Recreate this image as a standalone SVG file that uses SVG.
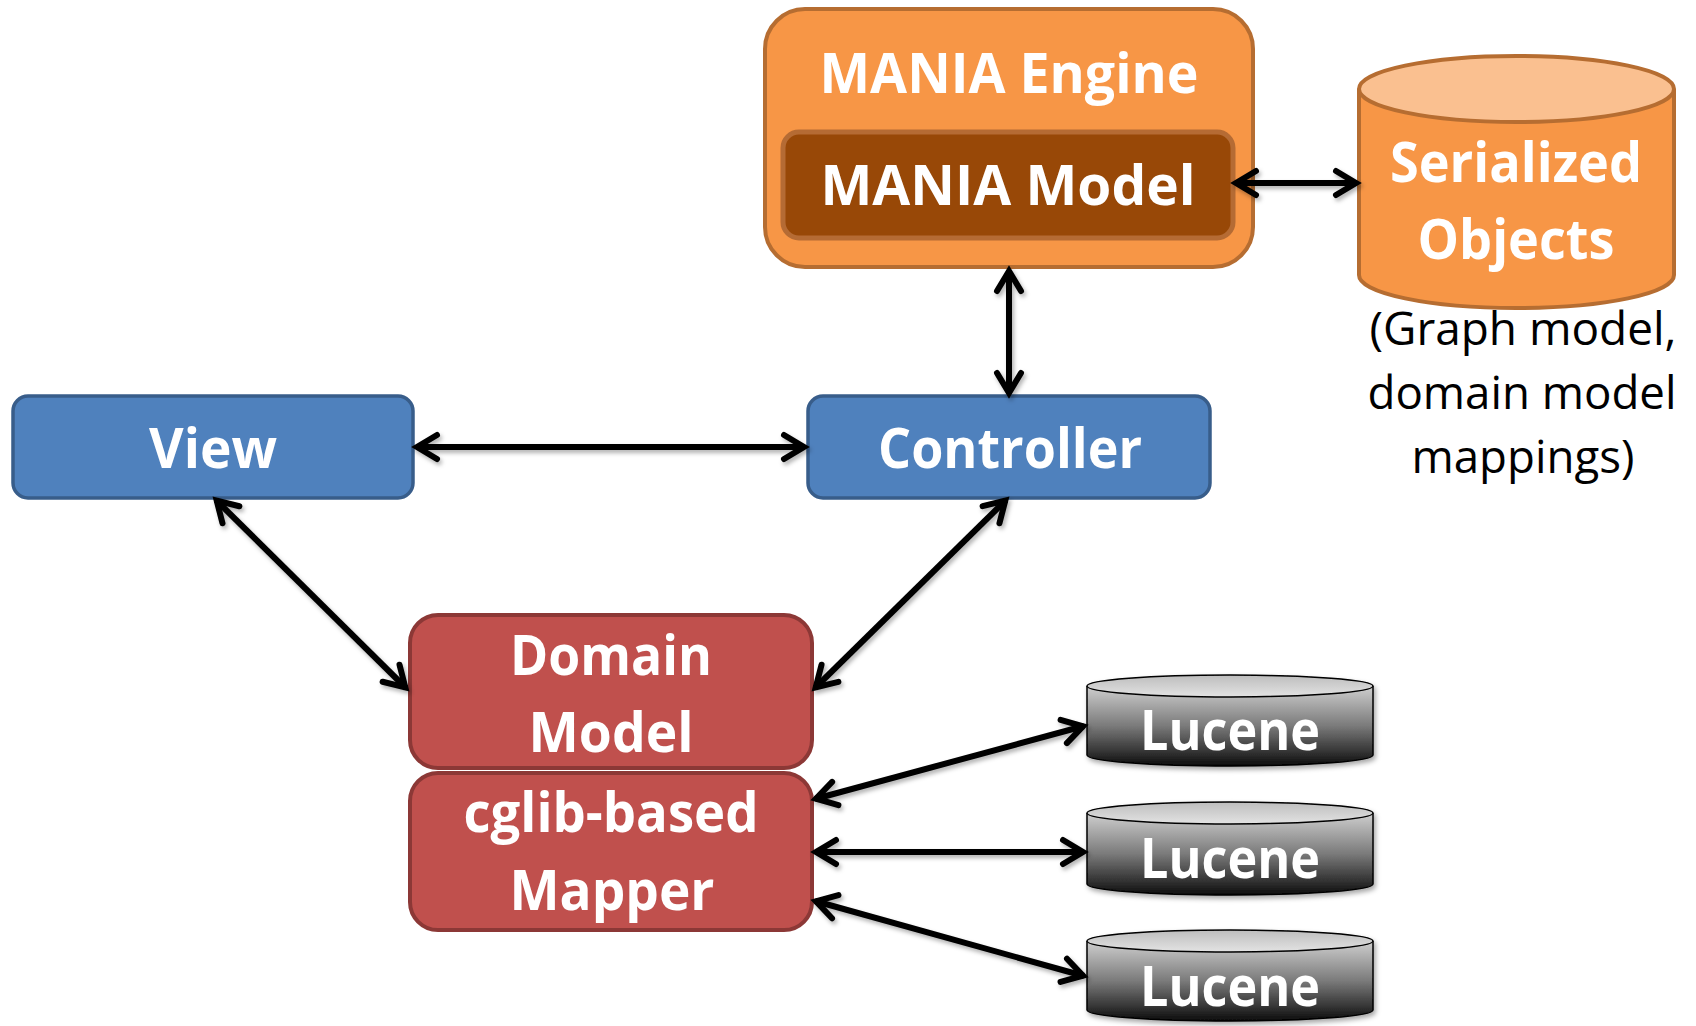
<svg xmlns="http://www.w3.org/2000/svg" width="1696" height="1026" viewBox="0 0 1696 1026">
  <style>
    .lbl { font-family: "Open Sans", "Liberation Sans", sans-serif; font-weight: 700; font-size: 56px; fill: #ffffff; text-anchor: middle; }
    .cap { font-family: "Open Sans", "Liberation Sans", sans-serif; font-weight: 400; font-size: 46px; fill: #000000; text-anchor: middle; }
    .blue { fill: #4f81bd; stroke: #385d8a; stroke-width: 3.5; }
    .red { fill: #c0504d; stroke: #8c3836; stroke-width: 4; }
  </style>
  <defs>
    <marker id="arr" markerUnits="userSpaceOnUse" markerWidth="40" markerHeight="40" viewBox="-32 -20 40 40" refX="0" refY="0" orient="auto-start-reverse">
      <path d="M -21 -12 L -1 0 L -21 12" fill="none" stroke="#000" stroke-width="6" stroke-linecap="round" stroke-linejoin="miter"/>
    </marker>
    <filter id="sh" x="-20%" y="-20%" width="140%" height="140%">
      <feDropShadow dx="2" dy="3" stdDeviation="2.5" flood-color="#000" flood-opacity="0.35"/>
    </filter>
    <filter id="shc" filterUnits="userSpaceOnUse" x="0" y="0" width="1696" height="1026">
      <feDropShadow dx="2" dy="3" stdDeviation="2" flood-color="#000" flood-opacity="0.3"/>
    </filter>
    <linearGradient id="lucBody" x1="0" y1="0" x2="0" y2="1">
      <stop offset="0" stop-color="#cfcfcf"/>
      <stop offset="0.5" stop-color="#7a7a7a"/>
      <stop offset="1" stop-color="#0d0d0d"/>
    </linearGradient>
    <linearGradient id="lucTop" x1="0" y1="0" x2="0" y2="1">
      <stop offset="0" stop-color="#bdbdbd"/>
      <stop offset="1" stop-color="#e3e3e3"/>
    </linearGradient>
  </defs>

  <g id="mania-engine">
    <rect x="765" y="9" width="488" height="258" rx="40" ry="40" fill="#f79646" stroke="#b66d31" stroke-width="4"/>
    <text class="lbl" x="1009" y="93" textLength="379" lengthAdjust="spacingAndGlyphs">MANIA Engine</text>
  </g>
  <g id="mania-model">
    <rect x="783" y="132" width="450" height="106" rx="16" ry="16" fill="#984807" stroke="#b56b34" stroke-width="5"/>
    <text class="lbl" x="1008" y="205" textLength="375" lengthAdjust="spacingAndGlyphs">MANIA Model</text>
  </g>

  <g id="serialized-objects">
    <path d="M 1359 89 L 1359 275 A 157.5 33 0 0 0 1674 275 L 1674 89" fill="#f79646" stroke="#b66d31" stroke-width="4"/>
    <ellipse cx="1516.5" cy="89" rx="157.5" ry="33" fill="#fac090" stroke="#b66d31" stroke-width="4"/>
    <text class="lbl" x="1516" y="182" textLength="252" lengthAdjust="spacingAndGlyphs">Serialized</text>
    <text class="lbl" x="1516" y="259" textLength="197" lengthAdjust="spacingAndGlyphs">Objects</text>
  </g>
  <g id="serialized-caption">
    <text class="cap" x="1523" y="345" textLength="307" lengthAdjust="spacingAndGlyphs">(Graph model,</text>
    <text class="cap" x="1522" y="409" textLength="309" lengthAdjust="spacingAndGlyphs">domain model</text>
    <text class="cap" x="1523" y="473" textLength="223" lengthAdjust="spacingAndGlyphs">mappings)</text>
  </g>

  <g id="view">
    <rect class="blue" x="13" y="396" width="400" height="102" rx="15" ry="15"/>
    <text class="lbl" x="213" y="468" textLength="128" lengthAdjust="spacingAndGlyphs">View</text>
  </g>
  <g id="controller">
    <rect class="blue" x="808" y="396" width="402" height="102" rx="15" ry="15"/>
    <text class="lbl" x="1010" y="468" textLength="264" lengthAdjust="spacingAndGlyphs">Controller</text>
  </g>

  <g id="domain-model">
    <rect class="red" x="410" y="615" width="402" height="153" rx="28" ry="28"/>
    <text class="lbl" x="611" y="675" textLength="202" lengthAdjust="spacingAndGlyphs">Domain</text>
    <text class="lbl" x="611" y="752" textLength="165" lengthAdjust="spacingAndGlyphs">Model</text>
  </g>
  <g id="cglib-mapper">
    <rect class="red" x="410" y="773" width="402" height="157" rx="28" ry="28"/>
    <text class="lbl" x="611" y="832" textLength="295" lengthAdjust="spacingAndGlyphs">cglib-based</text>
    <text class="lbl" x="612" y="910" textLength="205" lengthAdjust="spacingAndGlyphs">Mapper</text>
  </g>

  <g id="lucene-1" filter="url(#sh)">
    <path d="M 1087 686 L 1087 755 A 143 11 0 0 0 1373 755 L 1373 686" fill="url(#lucBody)" stroke="#000" stroke-width="1.5"/>
    <ellipse cx="1230" cy="686" rx="143" ry="11" fill="url(#lucTop)" stroke="#000" stroke-width="1.5"/>
    <text class="lbl" x="1230" y="750" textLength="180" lengthAdjust="spacingAndGlyphs">Lucene</text>
  </g>
  <g id="lucene-2" filter="url(#sh)">
    <path d="M 1087 813 L 1087 884 A 143 11 0 0 0 1373 884 L 1373 813" fill="url(#lucBody)" stroke="#000" stroke-width="1.5"/>
    <ellipse cx="1230" cy="813" rx="143" ry="11" fill="url(#lucTop)" stroke="#000" stroke-width="1.5"/>
    <text class="lbl" x="1230" y="878" textLength="180" lengthAdjust="spacingAndGlyphs">Lucene</text>
  </g>
  <g id="lucene-3" filter="url(#sh)">
    <path d="M 1087 941 L 1087 1010 A 143 11 0 0 0 1373 1010 L 1373 941" fill="url(#lucBody)" stroke="#000" stroke-width="1.5"/>
    <ellipse cx="1230" cy="941" rx="143" ry="11" fill="url(#lucTop)" stroke="#000" stroke-width="1.5"/>
    <text class="lbl" x="1230" y="1006" textLength="180" lengthAdjust="spacingAndGlyphs">Lucene</text>
  </g>

  <g id="connectors" filter="url(#shc)" fill="none" stroke="#000000" stroke-width="6" marker-start="url(#arr)" marker-end="url(#arr)">
    <path d="M 1235 183 L 1357 183"/>
    <path d="M 1009 270 L 1009 394"/>
    <path d="M 416 447 L 805 447"/>
    <path d="M 216 500 L 406 688"/>
    <path d="M 1006 500 L 815 688"/>
    <path d="M 815 799 L 1084 726"/>
    <path d="M 815 852 L 1084 852"/>
    <path d="M 815 901 L 1084 976"/>
  </g>
</svg>
